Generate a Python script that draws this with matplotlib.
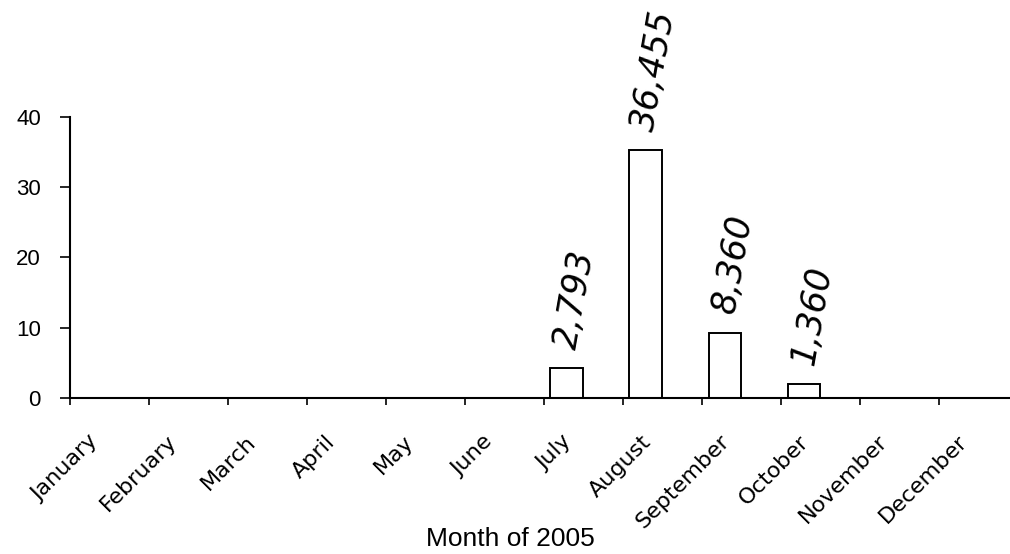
import numpy as np
import matplotlib.pyplot as plt

months = ['January', 'February', 'March', 'April', 'May', 'June',
          'July', 'August', 'September', 'October', 'November', 'December']
values = [0, 0, 0, 0, 0, 0, 4.3, 35.3, 9.3, 2.0, 0, 0]
notes = ['', '', '', '', '', '', '2,793', '36,455', '8,360', '1,360', '', '']
yticks = [0, 10, 20, 30, 40]

fig = plt.figure(figsize=(10.1, 5.54), dpi=100)
ax = fig.add_axes([0.0693, 0.2816, 0.935, 0.5072])

x = np.arange(len(months))
bars = ax.bar(x + 0.285, values, width=0.41, color='white', edgecolor='black', linewidth=1.4)

# handwritten totals above the bars
for xi, v, n in zip(x, values, notes):
    if n:
        ax.annotate(n, (xi + 0.285, v), xytext=(6, 12), textcoords='offset points',
                    rotation=80, ha='center', va='bottom', fontsize=25,
                    fontstyle='italic', family='DejaVu Sans', color='black')

ax.set_xlim(0, 11.95)
ax.set_ylim(0, 40)
ax.set_yticks(yticks)
ax.set_yticklabels([str(t) for t in yticks], fontsize=16, family='Liberation Sans')
ax.set_xticks(np.arange(0, 12))
ax.set_xticklabels([])
ax.set_xticks(x + 0.4, minor=True)
ax.set_xticklabels(months, minor=True, rotation=45, ha='right', va='top',
                   fontsize=16, family='DejaVu Sans')
ax.tick_params(axis='x', which='minor', length=0, pad=24)
ax.tick_params(axis='x', which='major', length=5, width=1.2, direction='out')
ax.tick_params(axis='y', length=7, width=1.2, pad=14)

for s in ['top', 'right']:
    ax.spines[s].set_visible(False)
ax.spines['left'].set_linewidth(1.5)
ax.spines['bottom'].set_linewidth(1.5)

ax.set_xlabel('Month of 2005', fontsize=19, family='Liberation Sans')
ax.xaxis.set_label_coords(0.466, -0.46)
ax.xaxis.label.set_va('top')

fig.savefig('out.png', dpi=100)
